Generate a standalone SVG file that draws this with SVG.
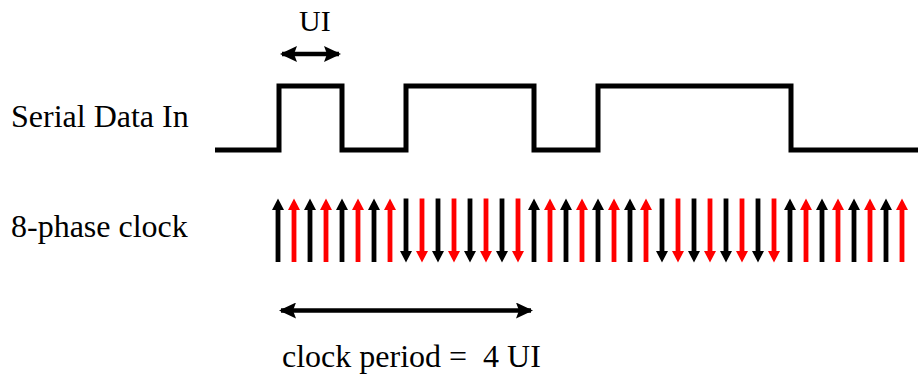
<svg xmlns="http://www.w3.org/2000/svg" xmlns:xlink="http://www.w3.org/1999/xlink" width="919" height="374" viewBox="0 0 919 374">
<style>
text{font-family:"Liberation Serif","Times New Roman",serif;fill:#000;white-space:pre}
.k{fill:#000}
.r{fill:#ff0000}
.wave{fill:none;stroke:#000;stroke-width:5;stroke-linejoin:miter}
.dim{stroke:#000;stroke-width:4.5;fill:none}
</style>
<defs>
<path id="up" d="M-2.4,262 V210 H-6 L0,198.5 L6,210 H2.4 V262 Z"/>
<path id="dn" d="M-2.4,198.5 V251 H-6 L0,262.5 L6,251 H2.4 V198.5 Z"/>
<marker id="ah" viewBox="0 0 17 16" refX="15" refY="8" markerWidth="17" markerHeight="16" markerUnits="userSpaceOnUse" orient="auto-start-reverse">
<path d="M0,0 L17,8 L0,16 L3,8 Z" fill="#000"/>
</marker>
</defs>
<rect width="919" height="374" fill="#fff"/>
<g id="labels">
<text x="299" y="31" font-size="30">UI</text>
<text x="11" y="127" font-size="32">Serial Data In</text>
<text x="11" y="237" font-size="32">8-phase clock</text>
<text x="282" y="367" font-size="32">clock period =  4 UI</text>
</g>
<g id="serial-data">
<path class="wave" d="M215,150 H279 V86 H342 V150 H406 V86 H534 V150 H598 V86 H791 V150 H918"/>
</g>
<g id="connectors">
<path class="dim" d="M282,54 H339" marker-start="url(#ah)" marker-end="url(#ah)"/>
<path class="dim" d="M281,310.5 H531" marker-start="url(#ah)" marker-end="url(#ah)"/>
</g>
<g id="clock">
<use href="#up" x="278" class="k"/><use href="#up" x="294" class="r"/><use href="#up" x="310" class="k"/><use href="#up" x="326" class="r"/>
<use href="#up" x="342" class="k"/><use href="#up" x="358" class="r"/><use href="#up" x="374" class="k"/><use href="#up" x="390" class="r"/>
<use href="#dn" x="406" class="k"/><use href="#dn" x="422" class="r"/><use href="#dn" x="438" class="k"/><use href="#dn" x="454" class="r"/>
<use href="#dn" x="470" class="k"/><use href="#dn" x="486" class="r"/><use href="#dn" x="502" class="k"/><use href="#dn" x="518" class="r"/>
<use href="#up" x="534" class="k"/><use href="#up" x="550" class="r"/><use href="#up" x="566" class="k"/><use href="#up" x="582" class="r"/>
<use href="#up" x="598" class="k"/><use href="#up" x="614" class="r"/><use href="#up" x="630" class="k"/><use href="#up" x="646" class="r"/>
<use href="#dn" x="662" class="k"/><use href="#dn" x="678" class="r"/><use href="#dn" x="694" class="k"/><use href="#dn" x="710" class="r"/>
<use href="#dn" x="726" class="k"/><use href="#dn" x="742" class="r"/><use href="#dn" x="758" class="k"/><use href="#dn" x="774" class="r"/>
<use href="#up" x="790" class="k"/><use href="#up" x="806" class="r"/><use href="#up" x="822" class="k"/><use href="#up" x="838" class="r"/>
<use href="#up" x="854" class="k"/><use href="#up" x="870" class="r"/><use href="#up" x="886" class="k"/><use href="#up" x="902" class="r"/>
</g>
</svg>
